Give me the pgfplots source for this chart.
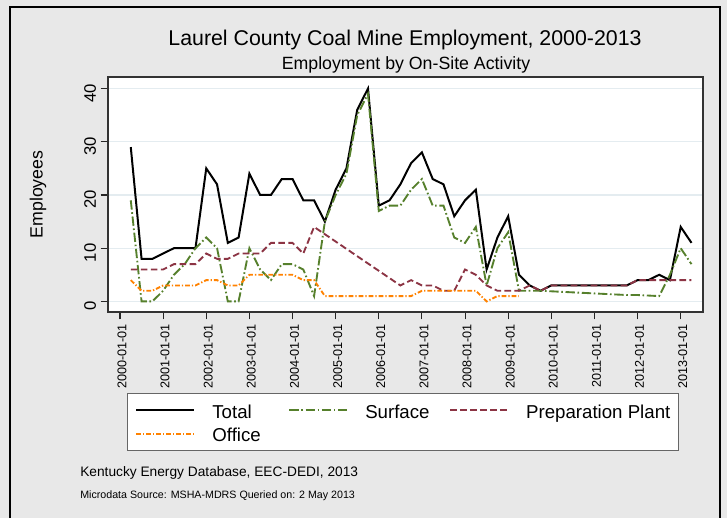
\documentclass[border=0pt]{standalone}
\usepackage{fontspec}
\setmainfont{Liberation Sans}
\usepackage{pgfplots}
\pgfplotsset{compat=1.18}
\definecolor{bggray}{RGB}{232,232,232}
\definecolor{gridc}{RGB}{228,236,240}
\definecolor{surfc}{RGB}{86,128,44}
\definecolor{prepc}{RGB}{140,52,68}
\definecolor{offc}{RGB}{255,130,0}
\begin{document}
\begin{tikzpicture}
\useasboundingbox (0,0) rectangle (545.25pt,388.5pt);
\fill[bggray] (0,0) rectangle (545.25pt,388.5pt);
\draw[line width=1.5pt] (7.5pt,0pt) -- (7.5pt,383.25pt) -- (540pt,383.25pt) -- (540pt,0pt);
\node[font=\fontsize{16}{19}\selectfont, anchor=base] at (303.75pt,354pt) {Laurel County Coal Mine Employment, 2000-2013};
\node[font=\fontsize{13.3}{16}\selectfont, anchor=base] at (304.5pt,336pt) {Employment by On-Site Activity};
\node[font=\fontsize{10.3}{12}\selectfont, anchor=base west, inner sep=0pt] at (60pt,31.5pt) {Kentucky Energy Database, EEC-DEDI, 2013};
\node[font=\fontsize{8}{9.5}\selectfont, anchor=base west, inner sep=0pt] at (60pt,14.5pt) {Microdata Source: MSHA-MDRS Queried on: 2 May 2013};
\begin{axis}[
  at={(81pt,154.5pt)}, anchor=south west,
  scale only axis, width=446.25pt, height=176.25pt,
  xmin=1999.722, xmax=2013.517, ymin=-1.99, ymax=42.17,
  xtick={2000,2001,2002,2003,2004,2005,2006,2007,2008,2009,2010,2011,2012,2013},
  xticklabels={2000-01-01,2001-01-01,2002-01-01,2003-01-01,2004-01-01,2005-01-01,2006-01-01,2007-01-01,2008-01-01,2009-01-01,2010-01-01,2011-01-01,2012-01-01,2013-01-01},
  ytick={0,10,20,30,40},
  xtick pos=lower, ytick pos=left,
  tick align=outside, major tick length=5.5pt,
  tick style={black!85, line width=0.8pt},
  axis line style={draw=black!80, line width=1.1pt},
  ymajorgrids, major grid style={color=gridc, line width=1pt},
  axis background/.style={fill=white},
  /pgf/number format/assume math mode=true,
  xticklabel style={rotate=90, anchor=east, yshift=-1.5pt, font=\fontsize{9.5}{11}\selectfont},
  yticklabel style={rotate=90, anchor=south, xshift=-3.5pt, font=\fontsize{12.5}{14}\selectfont},
  ylabel={Employees},
  ylabel style={font=\fontsize{13.3}{15}\selectfont, at={(axis description cs:-0.1176,0.5)}, anchor=center},
  legend columns=3,
  legend cell align=left,
  legend style={at={(axis description cs:0.0319,-0.3447)}, anchor=north west,
    draw=black!60, line width=0.6pt, fill=white,
    font=\fontsize{14}{16}\selectfont, inner xsep=6pt, inner ysep=4pt, row sep=0pt,
    nodes={inner xsep=0pt, inner ysep=1.5pt, text height=13pt, text depth=1.5pt},
    /tikz/every odd column/.append style={column sep=12.75pt}},
  legend image code/.code={\draw[#1] (0pt,0pt) -- (43.5pt,0pt);},
]
\addplot[black, line width=1.5pt] coordinates {
(2000.25,29)(2000.5,8)(2000.75,8)(2001,9)(2001.25,10)(2001.5,10)(2001.75,10)(2002,25)(2002.25,22)(2002.5,11)(2002.75,12)(2003,24)(2003.25,20)(2003.5,20)(2003.75,23)(2004,23)(2004.25,19)(2004.5,19)(2004.75,15)(2005,21)(2005.25,25)(2005.5,36)(2005.75,40)(2006,18)(2006.25,19)(2006.5,22)(2006.75,26)(2007,28)(2007.25,23)(2007.5,22)(2007.75,16)(2008,19)(2008.25,21)(2008.5,6)(2008.75,12)(2009,16)(2009.25,5)(2009.5,3)(2009.75,2)(2010,3)(2010.25,3)(2010.5,3)(2010.75,3)(2011,3)(2011.25,3)(2011.5,3)(2011.75,3)(2012,4)(2012.25,4)(2012.5,5)(2012.75,4)(2013,14)(2013.25,11)};
\addlegendentry{\makebox[57pt][l]{Total}}
\addplot[surfc, line width=1.4pt, dash pattern=on 7pt off 2pt on 1.2pt off 2pt] coordinates {
(2000.25,19)(2000.5,0)(2000.75,0)(2001,2)(2001.25,5)(2001.5,7)(2001.75,10)(2002,12)(2002.25,10)(2002.5,0)(2002.75,0)(2003,10)(2003.25,6)(2003.5,4)(2003.75,7)(2004,7)(2004.25,6)(2004.5,1)(2004.75,15)(2005,20)(2005.25,24)(2005.5,35)(2005.75,39)(2006,17)(2006.25,18)(2006.5,18)(2006.75,21)(2007,23)(2007.25,18)(2007.5,18)(2007.75,12)(2008,11)(2008.25,14)(2008.5,3)(2008.75,10)(2009,13)(2009.25,2)(2009.5,2)(2009.75,2)(2010,1.9)(2010.25,1.8)(2010.5,1.7)(2010.75,1.6)(2011,1.5)(2011.25,1.4)(2011.5,1.3)(2011.75,1.2)(2012,1.2)(2012.25,1.1)(2012.5,1)(2012.75,5)(2013,10)(2013.25,7)};
\addlegendentry{\makebox[63pt][l]{Surface}}
\addplot[prepc, line width=1.4pt, dash pattern=on 5pt off 2.5pt] coordinates {
(2000.25,6)(2000.5,6)(2000.75,6)(2001,6)(2001.25,7)(2001.5,7)(2001.75,7)(2002,9)(2002.25,8)(2002.5,8)(2002.75,9)(2003,9)(2003.25,9)(2003.5,11)(2003.75,11)(2004,11)(2004.25,9)(2004.5,14)(2006.5,3)(2006.75,4)(2007,3)(2007.25,3)(2007.5,2)(2007.75,2)(2008,6)(2008.25,5)(2008.5,3)(2008.75,2)(2009,2)(2009.25,2)(2009.5,3)(2009.75,2)(2010,3)(2010.25,3)(2010.5,3)(2010.75,3)(2011,3)(2011.25,3)(2011.5,3)(2011.75,3)(2012,4)(2012.25,4)(2012.5,4)(2012.75,4)(2013,4)(2013.25,4)};
\addlegendentry{Preparation Plant}
\addplot[offc, line width=1.4pt, dash pattern=on 3.5pt off 1.5pt on 1pt off 1.5pt] coordinates {
(2000.25,4)(2000.5,2)(2000.75,2)(2001,3)(2001.25,3)(2001.5,3)(2001.75,3)(2002,4)(2002.25,4)(2002.5,3)(2002.75,3)(2003,5)(2003.25,5)(2003.5,5)(2003.75,5)(2004,5)(2004.25,4)(2004.5,4)(2004.75,1)(2005,1)(2005.25,1)(2005.5,1)(2005.75,1)(2006,1)(2006.25,1)(2006.5,1)(2006.75,1)(2007,2)(2007.25,2)(2007.5,2)(2007.75,2)(2008,2)(2008.25,2)(2008.5,0)(2008.75,1)(2009,1)(2009.25,1)};
\addlegendentry{Office}
\end{axis}
\end{tikzpicture}
\end{document}
